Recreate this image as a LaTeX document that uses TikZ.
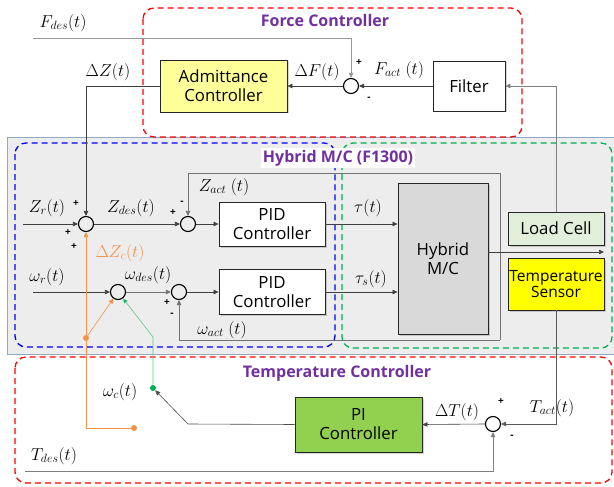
\documentclass[tikz,border=0pt]{standalone}
\usepackage{fontspec}
\setmainfont{Open Sans}
\usetikzlibrary{arrows.meta,shadows,calc}
\definecolor{purp}{HTML}{7030A0}
\definecolor{boxred}{HTML}{FF0000}
\definecolor{boxblue}{HTML}{0000FF}
\definecolor{boxgreen}{HTML}{00B050}
\definecolor{panelfill}{HTML}{EDEDED}
\definecolor{panelline}{HTML}{8EA9C8}
\definecolor{orng}{HTML}{F4914A}
\definecolor{grn}{HTML}{00B050}
\definecolor{grnline}{HTML}{5CC88A}
\definecolor{admfill}{HTML}{FFFF99}
\definecolor{loadfill}{HTML}{E2EFDA}
\definecolor{tsfill}{HTML}{FFFF00}
\definecolor{pifill}{HTML}{92D050}
\definecolor{hybfill}{HTML}{D9D9D9}
\begin{document}
\begin{tikzpicture}[x=1pt,y=-1pt,
  every node/.style={inner sep=0pt},
  blockbox/.style={draw=black!85, line width=0.9pt, align=center,
    font=\fontsize{16.8}{19}\selectfont,
    drop shadow={shadow xshift=1.5pt,shadow yshift=-1.5pt,opacity=0.35}},
  sumj/.style={circle, draw, line width=1.1pt, minimum size=15pt},
  sig/.style={draw=black!75, line width=0.6pt, -{Triangle[length=5pt,width=4.5pt]}},
  fbline/.style={draw=black!55, line width=0.7pt},
  lbl/.style={font=\fontsize{17.5}{17.5}\selectfont},
  sgn/.style={font=\fontsize{10}{10}\selectfont\bfseries},
  ttl/.style={font=\fontsize{16}{16}\selectfont\bfseries, text=purp},
  dbox/.style={line width=1.3pt, dash pattern=on 6pt off 4pt, rounded corners=11pt},
  dotnode/.style={circle, minimum size=6pt},
]
\useasboundingbox (0,0) rectangle (614,487);

% panels
\draw[draw=panelline, fill=panelfill, line width=0.8pt] (7,137) rectangle (618,354);
\draw[dbox, draw=boxred] (143,8) rectangle (522,137);
\draw[dbox, draw=boxblue] (15,143) rectangle (335,347);
\draw[dbox, draw=boxgreen] (342,143) rectangle (612,348);
\draw[dbox, draw=boxred] (15,357) rectangle (612,483);

% titles
\node[ttl] (tforce) at (325,21) {Force Controller};
\node[ttl, fill=white, inner sep=2pt] (thyb) at (338,158) {Hybrid M/C (F1300)};
\node[ttl] (ttemp) at (337,373) {Temperature Controller};

% blocks
\node[blockbox, fill=admfill, minimum width=127pt, minimum height=52pt] (adm) at (223.5,86) {Admittance\\Controller};
\node[blockbox, fill=white, minimum width=72pt, minimum height=50pt] (filt) at (469,86) {Filter};
\node[blockbox, fill=white, minimum width=106pt, minimum height=44pt] (pid1) at (272,224) {PID\\Controller};
\node[blockbox, fill=white, minimum width=106pt, minimum height=45pt] (pid2) at (272,292) {PID\\Controller};
\node[blockbox, fill=hybfill, minimum width=90pt, minimum height=151pt] (hyb) at (443,258.5) {Hybrid\\M/C};
\node[blockbox, fill=loadfill, minimum width=96pt, minimum height=33pt] (load) at (556,228.5) {Load Cell};
\node[blockbox, fill=tsfill, minimum width=96pt, minimum height=52pt, font=\fontsize{15.5}{16.5}\selectfont] (tsen) at (556,284) {Temperature\\Sensor};
\node[blockbox, fill=pifill, minimum width=127pt, minimum height=55pt] (pi) at (358.5,424.5) {PI\\Controller};

% summing junctions
\node[sumj] (sF) at (351,86) {};
\node[sumj] (sZ1) at (86,224) {};
\node[sumj] (sZ2) at (188,224) {};
\node[sumj] (sW1) at (118,292) {};
\node[sumj] (sW2) at (179,292) {};
\node[sumj] (sT) at (493,424) {};

% free ends and bends
\coordinate (fdin) at (33,38);
\coordinate (zrin) at (23,224);
\coordinate (wrin) at (33,292);
\coordinate (tdin) at (25,471);
\coordinate (outend) at (604,252);
\coordinate (fbtop) at (500,173);
\coordinate (fbbot) at (500,340);
\coordinate (pibend) at (188,424);
\coordinate (gbend) at (153,337);
\coordinate (obend) at (86,428);

% force loop
\draw[sig, draw=black!40] (fdin) -| (sF.north);
\draw[sig] (filt.west) -- (sF.east);
\draw[sig] (sF.west) -- (adm.east);
\draw[sig] (adm.west) -| (sZ1.north);
\draw[sig, draw=black!50] (load.north) |- (filt.east);

% hybrid
\draw[sig] (zrin) -- (sZ1.west);
\draw[sig] (sZ1.east) -- (sZ2.west);
\draw[sig] (sZ2.east) -- (pid1.west);
\draw[sig] (pid1.east) -- (pid1.east -| hyb.west);
\draw[sig] (pid2.east) -- (pid2.east -| hyb.west);
\draw[sig] (wrin) -- (sW1.west);
\draw[sig, draw=black!55] (sW1.east) -- (sW2.west);
\draw[sig] (sW2.east) -- (pid2.west);
\draw[fbline] (fbtop) -- (fbbot);
\draw[sig, draw=black!55] (fbtop) -| (sZ2.north);
\draw[sig, draw=black!55] (fbbot) -| (sW2.south);
\draw[sig] (hyb.east |- outend) -- (outend);

% temperature loop
\draw[sig, draw=black!65] (tsen.south) |- (sT.east);
\draw[sig, draw=black!50] (tdin) -| (sT.south);
\draw[sig] (sT.west) -- (pi.east);

% dots and compensation paths
\node[dotnode, fill=grn] (wcdot) at (153,388) {};
\node[dotnode, fill=orng] (odot1) at (86,338) {};
\node[dotnode, fill=orng] (odot2) at (134,428) {};
\draw[sig, draw=black!70] (pi.west) -- (pibend) -- (wcdot);
\draw[sig, draw=grnline, -{Triangle[length=5pt,width=4.5pt,fill=grn]}] (wcdot) -- (gbend) -- (sW1);
\draw[sig, draw=orng] (odot2) -- (obend) -- (sZ1.south);
\draw[sig, draw=orng] (odot1) -- (sW1);

% labels
\node[lbl] (lfdes) at (63,23) {$F_{des}(t)$};
\node[lbl] (ldz) at (108,72) {$\Delta Z(t)$};
\node[lbl] (ldf) at (317,72) {$\Delta F(t)$};
\node[lbl] (lfact) at (399,70) {$F_{act}\ (t)$};
\node[sgn] (pF) at (359,63) {+};
\node[sgn] (mF) at (369,99) {-};

\node[lbl] (lzact) at (224,187) {$Z_{act}\ (t)$};
\node[lbl] (lzr) at (47,208) {$Z_r(t)$};
\node[lbl] (lzdes) at (131,208) {$Z_{des}(t)$};
\node[sgn] (pZa) at (76,204) {+};
\node[sgn] (pZb) at (68,233) {+};
\node[sgn] (pZc) at (74,247) {+};
\node[sgn] (pZ2) at (173,213) {+};
\node[sgn] (mZ2) at (182,203) {-};
\node[lbl, text=orng] (ldzc) at (120,253) {$\Delta Z_c(t)$};
\node[lbl] (lwr) at (47,277) {$\omega_r(t)$};
\node[lbl] (lwdes) at (148,275) {$\omega_{des}(t)$};
\node[sgn] (pW2) at (167,303) {+};
\node[sgn] (mW2) at (172,315) {-};
\node[lbl] (lwact) at (222,330) {$\omega_{act}\ (t)$};
\node[lbl] (ltau) at (368,208) {$\tau(t)$};
\node[lbl] (ltaus) at (371,279) {$\tau_s(t)$};

\node[lbl] (lwc) at (120,392) {$\omega_c(t)$};
\node[lbl] (ltdes) at (54,456) {$T_{des}(t)$};
\node[lbl] (ldt) at (457,412) {$\Delta T(t)$};
\node[lbl] (ltact) at (552,408) {$T_{act}(t)$};
\node[sgn] (pT) at (501,402) {+};
\node[sgn] (mT) at (512,437) {-};
\end{tikzpicture}
\end{document}
